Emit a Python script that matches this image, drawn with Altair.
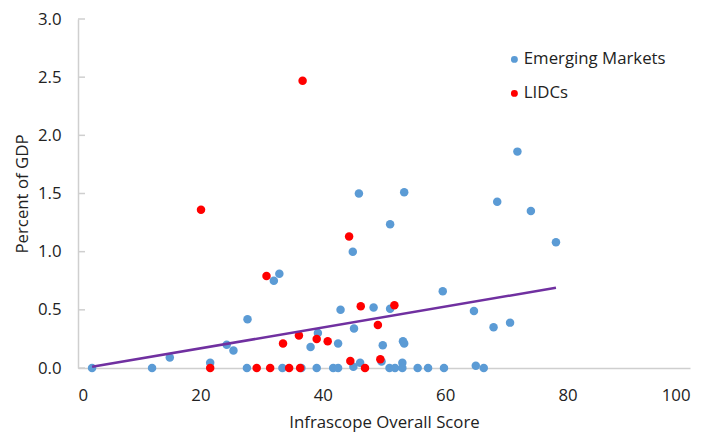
import altair as alt
import pandas as pd

# Emerging Markets
em_x = [2.3, 12.1, 15.0, 21.6, 24.3, 25.4, 27.7, 27.6, 32.0, 32.9, 33.4, 36.5, 38.0, 39.2,
        39.0, 41.7, 42.5, 42.5, 42.9, 45.1, 45.0, 44.9, 45.9, 46.1, 48.3, 49.8, 49.6, 50.9,
        51.8, 51.0, 51.0, 53.0, 53.0, 53.1, 53.3, 53.3, 55.5, 57.2, 59.8, 59.6, 64.7, 65.0,
        66.3, 67.9, 68.5, 70.6, 71.8, 74.0, 78.1]
em_y = [0.0, 0.0, 0.09, 0.045, 0.20, 0.15, 0.42, 0.0, 0.75, 0.81, 0.0, 0.0, 0.18, 0.30,
        0.0, 0.0, 0.0, 0.21, 0.50, 0.34, 0.01, 1.00, 1.50, 0.045, 0.52, 0.195, 0.055, 0.0,
        0.0, 0.51, 1.235, 0.045, 0.0, 0.23, 0.21, 1.51, 0.0, 0.0, 0.0, 0.66, 0.49, 0.02,
        0.0, 0.35, 1.43, 0.39, 1.86, 1.35, 1.08]

# LIDCs
lidc_x = [20.1, 21.6, 29.2, 30.8, 31.4, 33.5, 34.5, 36.1, 36.3, 36.7, 39.0, 40.8, 44.3,
          44.5, 46.2, 46.9, 49.0, 49.4, 51.7]
lidc_y = [1.36, 0.0, 0.0, 0.79, 0.0, 0.21, 0.0, 0.28, 0.0, 2.47, 0.25, 0.23, 1.13,
          0.06, 0.53, 0.0, 0.37, 0.075, 0.54]

# Trend line end points
trend_x = [2.3, 78.1]
trend_y = [0.01, 0.69]

y_ticks = [0.0, 0.5, 1.0, 1.5, 2.0, 2.5, 3.0]
x_ticks = [0, 20, 40, 60, 80, 100]

groups = ["Emerging Markets", "LIDCs"]
colors = ["#5B9BD5", "#FF0000"]

FONT = "Open Sans"
TXT = "#222222"
FS = 16.8

pts = pd.DataFrame({
    "score": em_x + lidc_x,
    "gdp": em_y + lidc_y,
    "group": [groups[0]] * len(em_x) + [groups[1]] * len(lidc_x),
    "order": [0] * len(em_x) + [1] * len(lidc_x),
})
trend = pd.DataFrame({"score": trend_x, "gdp": trend_y})
ticks = pd.DataFrame({"gdp": y_ticks})

xscale = alt.Scale(domain=[0, 100], nice=False)
yscale = alt.Scale(domain=[0, 3], nice=False)

common_axis = dict(grid=False, ticks=False, tickSize=0,
                   labelFont=FONT, titleFont=FONT, labelFontSize=FS, titleFontSize=FS,
                   labelColor=TXT, titleColor=TXT, titleFontWeight="normal",
                   domainColor="#CFCFCF", domainWidth=1.5)

points = alt.Chart(pts).mark_circle(size=72, opacity=1).encode(
    x=alt.X("score:Q", scale=xscale,
            axis=alt.Axis(title="Infrascope Overall Score", values=x_ticks,
                          labelPadding=19, titlePadding=11, **common_axis)),
    y=alt.Y("gdp:Q", scale=yscale,
            axis=alt.Axis(title="Percent of GDP", values=y_ticks, format=".1f",
                          labelPadding=17, titlePadding=6, **common_axis)),
    color=alt.Color("group:N", scale=alt.Scale(domain=groups, range=colors),
                    legend=alt.Legend(title=None, orient="none", legendX=428, legendY=32,
                                      symbolType="circle", symbolSize=48, rowPadding=16,
                                      labelFontSize=FS, labelFont=FONT, labelColor=TXT,
                                      symbolStrokeWidth=0, labelOffset=1)),
    order=alt.Order("order:Q"),
)

tick_marks = alt.Chart(ticks).mark_rule(color="#CFCFCF", strokeWidth=1.5).encode(
    y=alt.Y("gdp:Q", scale=yscale),
    x=alt.value(0),
    x2=alt.value(7),
)

line = alt.Chart(trend).mark_line(color="#7030A0", strokeWidth=2.5).encode(
    x=alt.X("score:Q", scale=xscale),
    y=alt.Y("gdp:Q", scale=yscale),
)

chart = alt.layer(tick_marks, points, line).properties(
    width=612, height=349,
    background="white",
    autosize=alt.AutoSizeParams(type="none"),
    padding={"left": 70, "top": 11, "right": 13, "bottom": 64},
).configure_view(stroke=None)

chart.save("out.html", embed_options={"renderer": "svg", "actions": False})
